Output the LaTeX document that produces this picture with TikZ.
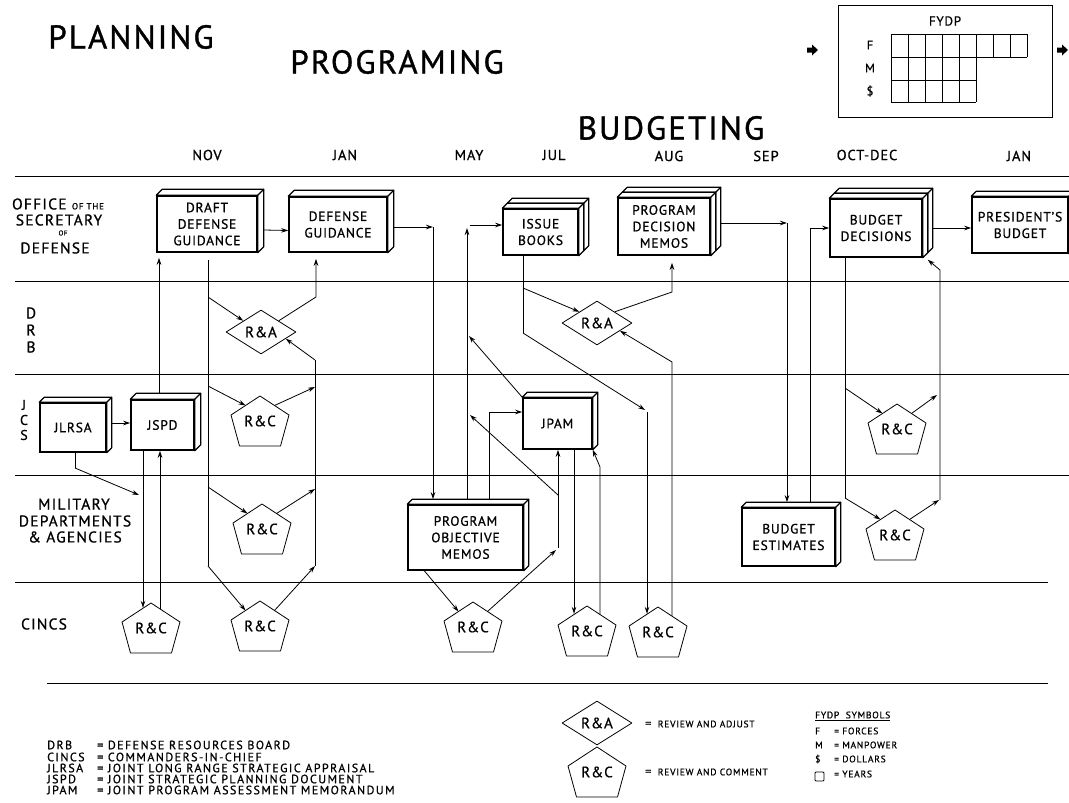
\documentclass[tikz,border=0pt]{standalone}
\usepackage{fontspec}
\setmainfont{PT Sans}[LetterSpace=6,FakeBold=0.8]
\newfontfamily\titlefont{PT Sans}[LetterSpace=6,FakeBold=1]
\usetikzlibrary{arrows.meta,shapes.geometric,calc,backgrounds}
\newcommand\fs[2]{\fontsize{#1}{#2}\selectfont}
\tikzset{
  conn/.style={line width=0.8pt},
  arr/.style={line width=0.8pt,-{Stealth[length=7pt,width=4.5pt]}},
  sep/.style={line width=0.9pt},
  boxnode/.style={draw,line width=1.5pt,fill=white,inner sep=0pt,align=center,font=\fs{13.5}{16.5}},
  face/.style={draw,line width=1.1pt,fill=white,line join=round},
  shapeline/.style={draw,line width=0.8pt,line join=round},
  lbl/.style={inner sep=0pt,align=center},
  title/.style={lbl,font=\titlefont\fs{33}{36}},
  month/.style={lbl,font=\fs{14.5}{16}},
  rowlbl/.style={lbl,font=\fs{15.5}{17}\addfontfeature{LetterSpace=8}},
  jcslbl/.style={lbl,font=\fs{14}{15}},
  rcnode/.style={inner sep=0pt,minimum width=58pt,minimum height=50pt,font=\fs{15}{16}},
  ranode/.style={diamond,shapeline,inner sep=0pt,minimum width=70pt,minimum height=44pt,font=\fs{15}{16}},
  leg/.style={inner sep=0pt,anchor=west,font=\fs{12}{13}\addfontfeature{LetterSpace=12}},
  legs/.style={inner sep=0pt,anchor=west,font=\fs{9.5}{11}\addfontfeature{LetterSpace=8}},
}
\newcommand\boxfaces[2]{%
  \filldraw[face] (#1.north west) -- ++(#2,-#2) -- ($(#1.north east)+(#2,-#2)$) -- ($(#1.south east)+(#2,-#2)$) -- (#1.south east) -- (#1.north east) -- cycle;
  \draw[line width=1.1pt] (#1.north east) -- ++(#2,-#2);
}
\newcommand\boxback[3]{%
  \begin{pgfonlayer}{background}
  \path (#1.north west) ++(#2,-#2) coordinate (#1-bnw);
  \path (#1.north east) ++(#2,-#2) coordinate (#1-bne);
  \path (#1.south east) ++(#2,-#2) coordinate (#1-bse);
  \filldraw[face] (#1-bnw) -- ++(#3,-#3) -- ($(#1-bne)+(#3,-#3)$) -- ($(#1-bse)+(#3,-#3)$) -- (#1-bse) -- (#1-bne) -- cycle;
  \draw[line width=1.1pt] (#1-bne) -- ++(#3,-#3);
  \filldraw[face] (#1-bnw) rectangle (#1-bse);
  \end{pgfonlayer}
}
\newcommand\rcpent[3]{%
  \node[rcnode] (#1) at (#2,#3) {R\&C};
  \draw[shapeline] (#2,#3-25) -- (#2-29,#3-6) -- (#2-20.5,#3+25) -- (#2+20.5,#3+25) -- (#2+29,#3-6) -- cycle;
  \coordinate (#1-nw) at (#2-14.5,#3-15.5);
  \coordinate (#1-ne) at (#2+14.5,#3-15.5);
}
\begin{document}
\begin{tikzpicture}[x=1pt,y=-1pt]
\useasboundingbox (0,0) rectangle (1069,803);
% titles
\node[title] (tplan) at (131,37) {PLANNING};
\node[title] (tprog) at (397,62) {PROGRAMING};
\node[title] (tbudg) at (671,128) {BUDGETING};
% FYDP
\draw[line width=0.9pt] (838,5) rectangle (1052,117);
\node[lbl,font=\fs{13}{14}] (fydp) at (945,21) {FYDP};
\node[lbl,font=\fs{12.5}{14}] (fyf) at (870,45) {F};
\node[lbl,font=\fs{12.5}{14}] (fym) at (870,68) {M};
\node[lbl,font=\fs{12.5}{14}] (fyd) at (870,91) {\$};
\begin{scope}[line width=0.9pt]
\foreach \i in {0,...,8} \draw (891+17*\i,34) -- (891+17*\i,57);
\foreach \i in {0,...,5} \draw (891+17*\i,57) -- (891+17*\i,102);
\draw (891,34) -- (1027,34) (891,57) -- (1027,57) (891,80) -- (976,80) (891,102) -- (976,102);
\end{scope}
\fill[shift={(807,50)}] (0,-2.5) -- (5,-2.5) -- (5,-5.5) -- (11,0) -- (5,5.5) -- (5,2.5) -- (0,2.5) -- cycle;
\fill[shift={(1057,50)}] (0,-2.5) -- (5,-2.5) -- (5,-5.5) -- (11,0) -- (5,5.5) -- (5,2.5) -- (0,2.5) -- cycle;
% months
\node[month] (mnov) at (207,155) {NOV};
\node[month] (mjan) at (345,155) {JAN};
\node[month] (mmay) at (469,155) {MAY};
\node[month] (mjul) at (554,155) {JUL};
\node[month] (maug) at (669,156) {AUG};
\node[month] (msep) at (766,156) {SEP};
\node[month] (moct) at (867,155) {OCT-DEC};
\node[month] (mjan2) at (1019,156) {JAN};
% separators
\draw[sep] (15,176) -- (1069,176);
\draw[sep] (15,281) -- (1069,281);
\draw[sep] (15,374) -- (1069,374);
\draw[sep] (15,475) -- (1069,475);
\draw[sep] (15,582) -- (1048,582);
\draw[sep] (47,683) -- (1048,683);
% row labels
\node[rowlbl] (osd1) at (58,204) {OFFICE {\fs{9}{10}OF THE}};
\node[rowlbl] (osd2) at (59,220) {SECRETARY};
\node[rowlbl,font=\fs{7}{8}] (osd3) at (63,233) {OF};
\node[rowlbl] (osd4) at (55,248) {DEFENSE};
\node[rowlbl] (drb1) at (31,313) {D};
\node[rowlbl] (drb2) at (31,330) {R};
\node[rowlbl] (drb3) at (31,347) {B};
\node[jcslbl] (jcs1) at (24,405) {J};
\node[jcslbl] (jcs2) at (24,420) {C};
\node[jcslbl] (jcs3) at (24,435) {S};
\node[rowlbl] (mil1) at (74,504) {MILITARY};
\node[rowlbl] (mil2) at (75,521) {DEPARTMENTS};
\node[rowlbl] (mil3) at (75,537) {\& AGENCIES};
\node[rowlbl] (cincs) at (44,624) {CINCS};
% boxes
\node[boxnode,minimum width=100pt,minimum height=56pt] (ddg) at (207,224) {DRAFT\\DEFENSE\\GUIDANCE};
\boxfaces{ddg}{6}
\node[boxnode,minimum width=98pt,minimum height=55pt] (dg) at (338,224.5) {DEFENSE\\GUIDANCE};
\boxfaces{dg}{6}
\node[boxnode,minimum width=75pt,minimum height=46pt] (ib) at (540.5,232) {ISSUE\\BOOKS};
\boxfaces{ib}{5}\boxback{ib}{5}{5}
\node[boxnode,minimum width=92pt,minimum height=57pt] (pdm) at (664,226.5) {PROGRAM\\DECISION\\MEMOS};
\boxfaces{pdm}{5}\boxback{pdm}{5}{5}
\node[boxnode,minimum width=92pt,minimum height=58pt] (bd) at (876,228) {BUDGET\\DECISIONS};
\boxfaces{bd}{5}\boxback{bd}{5}{5}
\node[boxnode,minimum width=96pt,minimum height=56pt] (pb) at (1020,225) {PRESIDENT'S\\BUDGET};
\boxfaces{pb}{5}
\node[boxnode,minimum width=66pt,minimum height=49pt] (jlrsa) at (73,427.5) {JLRSA};
\boxfaces{jlrsa}{5}
\node[boxnode,minimum width=63pt,minimum height=50pt] (jspd) at (162.5,425) {JSPD};
\boxfaces{jspd}{6}
\node[boxnode,minimum width=69pt,minimum height=51pt] (jpam) at (557.5,423.5) {JPAM};
\boxfaces{jpam}{5}
\node[boxnode,minimum width=115pt,minimum height=65pt] (pom) at (465.5,537.5) {PROGRAM\\OBJECTIVE\\MEMOS};
\boxfaces{pom}{5}
\node[boxnode,minimum width=93pt,minimum height=58pt] (be) at (788.5,537) {BUDGET\\ESTIMATES};
\boxfaces{be}{5}
% review nodes
\node[ranode] (ra1) at (261,332) {R\&A};
\node[ranode] (ra2) at (597,323) {R\&A};
\rcpent{rca}{151}{628}
\rcpent{rcb}{260}{626}
\rcpent{rcc}{262}{529}
\rcpent{rcd}{260}{421}
\rcpent{rce}{473}{627}
\rcpent{rcf}{587}{631}
\rcpent{rcg}{658}{632}
\rcpent{rch}{897}{429}
\rcpent{rci}{895}{535}
% coordinates
\coordinate (c1) at (433,227);
\coordinate (c2) at (467,225);
\coordinate (c3) at (489,412);
\coordinate (c4) at (469,336);
\coordinate (c5) at (672,292);
\coordinate (c6) at (672,362);
\coordinate (c7) at (600,467);
\coordinate (c8) at (558,548);
\coordinate (c9) at (558,495);
\coordinate (c10) at (470,415);
\coordinate (c11) at (787,223);
\coordinate (c12) at (810,0);
\coordinate (c13) at (523,333);
\coordinate (c14) at (645,410);
\coordinate (c15) at (523,288);
\coordinate (c16) at (647,412);
\coordinate (c17) at (574,0);
% OSD / programming flows
\draw[arr] ([xshift=6pt,yshift=-6pt]ddg.east) -- ([yshift=-6pt]dg.west);
\draw[arr] ([xshift=6pt,yshift=-2.5pt]dg.east) -- (c1);
\draw[arr] (c1) -- ($(c1 |- pom.north)+(0,-5)$);
\draw[arr] ($(c2 |- pom.north)+(0,-5)$) -- ($(c2)+(0,3)$);
\draw[arr] ($(c2)+(3,0)$) -- (c2 -| ib.west);
\draw[arr] ($(c3 |- pom.north)+(0,-5)$) -- (c3) -- (c3 -| jpam.west);
\draw[arr] (jpam.north west) -- (c4);
\draw[conn] (c13 |- ib.south) -- (c13);
\draw[arr] (c13) -- (c14);
\draw[arr] (c15) -- (ra2.north west);
\draw[arr] (c16) -- ($(rcg.north)+(-11,7)$);
\draw[arr] (ra2.north east) -- (c5) -- ($(c5 |- pdm.south)+(0,7)$);
\draw[arr] ($(rcg.north)+(14,9)$) -- (c6) -- ($(ra2.east)!0.35!(ra2.south)$);
\draw[arr] (c17 |- jpam.south) -- ($(rcf.north)+(-13,8)$);
\draw[arr] ($(rcf.north)+(13,8.5)$) -- (c7) -- (jpam.south east);
\draw[arr] (rce-ne) -- ($(c8)+(-2,2)$);
\draw[arr] (c8) -- (c8 |- jpam.south);
\draw[arr] (c9) -- (c10);
\draw[arr] ([xshift=17pt]pom.south west) -- (rce-nw);
% planning flows
\coordinate (d1) at (208,297);
\coordinate (d2) at (208,386);
\coordinate (d3) at (208,487);
\coordinate (d4) at (208,566);
\draw[conn] ($(d1 |- ddg.south)+(0,7)$) -- (d4);
\draw[arr] (d1) -- (ra1.north west);
\draw[arr] (d2) -- (rcd-nw);
\draw[arr] (d3) -- (rcc-nw);
\draw[arr] (d4) -- (rcb-nw);
\coordinate (e1) at (315,360);
\coordinate (e2) at (315,566);
\coordinate (e3) at (315,387);
\coordinate (e4) at (315,489);
\draw[conn] (e2) -- (e1);
\draw[arr] (e1) -- ($(ra1.east)!0.3!(ra1.south)$);
\draw[arr] (rcd-ne) -- (e3);
\draw[arr] (rcc-ne) -- (e4);
\draw[arr] (rcb-ne) -- (e2);
\coordinate (f1) at (316,297);
\draw[arr] (ra1.north east) -- (f1) -- ($(f1 |- dg.south)+(0,6)$);
% JCS flows
\coordinate (j1) at (159,0);
\coordinate (j2) at (143,0);
\coordinate (j3) at (160,0);
\coordinate (y423) at (0,423);
\coordinate (g1) at (75,468);
\coordinate (g2) at (139,495);
\draw[arr] ($(jlrsa.east |- y423)+(5,0)$) -- (jspd.west |- y423);
\draw[arr] ($(j1 |- jspd.north)+(0,-6)$) -- ($(j1 |- ddg.south)+(0,5)$);
\draw[arr] (j2 |- jspd.south) -- ($(rca.north)+(-8,5)$);
\draw[arr] ($(rca.north)+(9,6)$) -- (j3 |- jspd.south);
\draw[conn] (g1 |- jlrsa.south) -- (g1);
\draw[arr] (g1) -- (g2);
% budgeting flows
\draw[arr] ($(pdm.east |- c11)+(10,0)$) -- (c11);
\draw[arr] (c11) -- ($(c11 |- be.north)+(0,-5)$);
\draw[arr] ($(c12 |- be.north)+(0,-5)$) |- (bd.west);
\draw[arr] ([xshift=10pt]bd.east) -- (bd.east -| pb.west);
\coordinate (h1) at (845,388);
\coordinate (h2) at (845,498);
\draw[conn] (h1 |- bd.south) -- (h2);
\draw[arr] (h1) -- (rch-nw);
\draw[arr] (h2) -- (rci-nw);
\coordinate (k1) at (940,270);
\coordinate (k2) at (940,500);
\coordinate (k3) at (937,395);
\draw[arr] (rch-ne) -- (k3);
\draw[arr] (rci-ne) -- ($(k2)+(-1,0)$);
\draw[arr] (k2) -- (k1) -- ($(bd.south east)+(5,2)$);
% legend
\node[leg] (la1) at (47,745) {DRB};
\node[leg] (lb1) at (97,745) {=\ DEFENSE RESOURCES BOARD};
\node[leg] (la2) at (47,757) {CINCS};
\node[leg] (lb2) at (97,757) {=\ COMMANDERS-IN-CHIEF};
\node[leg] (la3) at (47,768) {JLRSA};
\node[leg] (lb3) at (97,768) {=\ JOINT LONG RANGE STRATEGIC APPRAISAL};
\node[leg] (la4) at (47,779) {JSPD};
\node[leg] (lb4) at (97,779) {=\ JOINT STRATEGIC PLANNING DOCUMENT};
\node[leg] (la5) at (47,790) {JPAM};
\node[leg] (lb5) at (97,790) {=\ JOINT PROGRAM ASSESSMENT MEMORANDUM};
\node[ranode] (raleg) at (597,723) {R\&A};
\node[legs] (lra) at (645,724) {{\fs{12}{12}=}\ \ REVIEW AND ADJUST};
\rcpent{rcleg}{597}{772}
\node[legs] (lrc) at (645,772) {{\fs{12}{12}=}\ \ REVIEW AND COMMENT};
\node[legs] (lfs) at (815,716) {\underline{FYDP\ \ SYMBOLS}};
\node[legs] (lf1) at (815,731) {F};
\node[legs] (lf2) at (834,731) {= FORCES};
\node[legs] (lm1) at (815,745) {M};
\node[legs] (lm2) at (834,745) {= MANPOWER};
\node[legs] (ld1) at (815,759) {\$};
\node[legs] (ld2) at (834,759) {= DOLLARS};
\draw[line width=0.8pt,rounded corners=1pt] (815,772) rectangle (824,781);
\node[legs] (ly2) at (834,774) {= YEARS};
\end{tikzpicture}
\end{document}
